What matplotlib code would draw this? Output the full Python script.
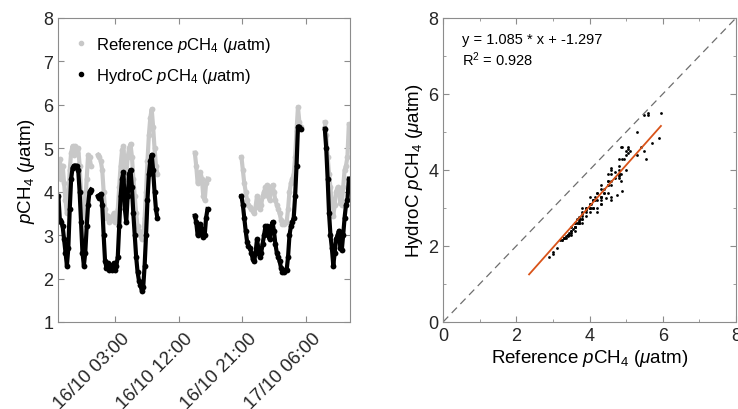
import datetime as dt
import numpy as np
import matplotlib
matplotlib.use("Agg")
import matplotlib.pyplot as plt
import matplotlib.dates as mdates
from matplotlib.lines import Line2D
from matplotlib.transforms import ScaledTranslation

plt.rcParams['font.family'] = ['Liberation Sans', 'DejaVu Sans']
plt.rcParams['mathtext.fontset'] = 'custom'
plt.rcParams['mathtext.rm'] = 'Liberation Sans'
plt.rcParams['mathtext.it'] = 'Liberation Sans:italic'

# sampling step of the records (hours)
step_h = 0.2

# segment start times, hours after 16/10 00:00
seg_start = [-5.0, 0.6, 14.3, 20.9, 32.7]

# HydroC pCH4 (uatm), one list per segment
hydroc = [
    [3.9, 3.35, 3.3, 3.2, 2.9, 2.6, 2.3, 2.7, 3.6, 4.3, 4.55, 4.6, 4.6, 4.6,
     4.5, 4.0, 3.3, 2.6, 2.3, 2.6, 3.2, 3.7, 4.0, 4.05],
    [3.9, 3.85, 3.95, 3.7, 3.0, 2.4, 2.25, 2.35, 2.2, 2.3, 2.2, 2.35, 2.2, 2.3,
     2.5, 3.2, 3.9, 4.3, 4.45, 3.6, 3.3, 3.9, 4.4, 4.5, 4.1, 3.5, 3.0, 2.5,
     2.15, 1.95, 1.85, 1.72, 1.8, 2.3, 3.0, 3.8, 4.4, 4.7, 4.85, 4.5, 4.0,
     3.6, 3.4],
    [3.45, 3.3, 3.0, 3.1, 3.25, 3.1, 2.95, 3.0, 3.4, 3.6],
    [3.9, 3.7, 3.4, 3.1, 2.85, 2.75, 2.7, 2.6, 2.45, 2.4, 2.6, 2.9, 2.7, 2.5,
     2.6, 2.8, 3.0, 3.2, 3.2, 3.0, 2.9, 3.2, 3.3, 3.1, 2.8, 2.6, 2.5, 2.4,
     2.25, 2.15, 2.15, 2.2, 2.2, 2.5, 3.0, 3.2, 3.3, 3.4, 3.9, 4.6, 5.5, 5.5,
     5.45],
    [5.45, 5.0, 4.3, 3.5, 3.0, 2.7, 2.3, 2.6, 2.9, 3.0, 3.1, 2.7, 2.65, 3.0,
     3.4, 3.7, 3.8, 4.3],
]

# Reference pCH4 (uatm), same times
reference = [
    [4.5, 4.75, 4.3, 4.6, 4.2, 3.8, 3.5, 3.8, 4.5, 4.9, 5.05, 4.85, 5.05, 4.9,
     5.0, 4.6, 4.0, 3.6, 3.4, 3.7, 4.3, 4.85, 4.8, 4.6],
    [4.85, 4.8, 4.7, 4.5, 4.0, 3.6, 3.4, 3.45, 3.3, 3.4, 3.35, 3.5, 3.3, 3.4,
     3.6, 4.1, 4.6, 4.95, 5.05, 4.5, 4.3, 4.8, 5.0, 5.1, 4.8, 4.3, 3.9, 3.5,
     3.2, 3.1, 3.0, 2.9, 3.0, 3.4, 4.0, 4.7, 5.3, 5.7, 5.9, 5.5, 5.0, 4.6,
     4.4],
    [4.9, 4.6, 4.2, 4.3, 4.45, 4.3, 3.9, 3.8, 4.2, 4.3],
    [4.8, 4.5, 4.2, 4.0, 3.8, 3.7, 3.65, 3.6, 3.55, 3.5, 3.65, 3.9, 3.8, 3.6,
     3.7, 3.9, 4.0, 4.1, 4.15, 3.9, 3.8, 4.1, 4.15, 4.0, 3.8, 3.7, 3.6, 3.5,
     3.35, 3.25, 3.25, 3.3, 3.3, 3.6, 4.0, 4.2, 4.3, 4.4, 4.8, 5.4, 5.95,
     5.6, 5.5],
    [5.6, 5.3, 4.8, 4.4, 4.1, 3.7, 3.45, 3.7, 4.0, 4.1, 4.05, 3.75, 3.7, 4.1,
     4.5, 4.6, 4.8, 5.55],
]

fit_slope = 1.085
fit_icpt = -1.297
fit_r2 = 0.928
fit_xrange = [2.35, 5.95]

base = dt.datetime(2015, 10, 16)
tick_hours = [3, 12, 21, 30]
xlim_hours = [-5.06, 36.27]

grey = '#c8c8c8'
orange = '#d95319'
spine_c = '#8c8c8c'

fig = plt.figure(figsize=(7.38, 4.10), dpi=100)
ax1 = fig.add_axes([0.0786, 0.2122, 0.3957, 0.7415])
ax2 = fig.add_axes([0.6003, 0.2122, 0.3970, 0.7415])

def to_time(h):
    return base + dt.timedelta(hours=h)

for t0, ref in zip(seg_start, reference):
    times = [to_time(t0 + step_h * i) for i in range(len(ref))]
    ax1.plot(times, ref, color=grey, lw=3.0, marker='o', ms=4.2, mew=0)
for t0, hyd in zip(seg_start, hydroc):
    times = [to_time(t0 + step_h * i) for i in range(len(hyd))]
    ax1.plot(times, hyd, color='black', lw=3.0, marker='o', ms=4.2, mew=0)

ax1.set_xlim(to_time(xlim_hours[0]), to_time(xlim_hours[1]))
ax1.set_ylim(1, 8)
ax1.set_yticks(range(1, 9))
ax1.set_xticks([to_time(h) for h in tick_hours])
ax1.xaxis.set_major_formatter(mdates.DateFormatter('%d/%m %H:%M'))
ax1.set_ylabel('$p$CH$_4$ ($\\mu$atm)', fontsize=13.5, labelpad=4)

handles = [Line2D([], [], ls='none', marker='.', color=grey, ms=6),
           Line2D([], [], ls='none', marker='.', color='black', ms=6)]
ax1.legend(handles, ['Reference $p$CH$_4$ ($\\mu$atm)',
                     'HydroC $p$CH$_4$ ($\\mu$atm)'],
           loc='upper left', frameon=False, fontsize=12,
           handlelength=0.8, handletextpad=0.45, labelspacing=0.75,
           borderaxespad=0.6)

# scatter of the paired records
all_ref = np.concatenate([np.array(r) for r in reference])
all_hyd = np.concatenate([np.array(h) for h in hydroc])
ax2.plot([0, 8], [0, 8], ls=(0, (6, 4)), color='#6e6e6e', lw=0.9)
ax2.scatter(all_ref, all_hyd, s=4, color='black', lw=0)
fx = np.array(fit_xrange)
ax2.plot(fx, fit_slope * fx + fit_icpt, color=orange, lw=1.3)
ax2.text(0.52, 7.45, 'y = %.3f * x + %.3f' % (fit_slope, fit_icpt),
         fontsize=10.5, va='center')
ax2.text(0.52, 6.92, 'R$^2$ = %.3f' % fit_r2, fontsize=10.5, va='center')
ax2.set_xlim(0, 8)
ax2.set_ylim(0, 8)
ax2.set_xticks([0, 2, 4, 6, 8])
ax2.set_yticks([0, 2, 4, 6, 8])
ax2.set_xticks(range(9), minor=True)
ax2.set_yticks(range(9), minor=True)
ax2.set_xlabel('Reference $p$CH$_4$ ($\\mu$atm)', fontsize=13.5, labelpad=2)
ax2.set_ylabel('HydroC $p$CH$_4$ ($\\mu$atm)', fontsize=13.5, labelpad=2)

for ax in (ax1, ax2):
    for sp in ax.spines.values():
        sp.set_color(spine_c)
        sp.set_linewidth(0.8)
    ax.tick_params(which='both', direction='in', top=True, right=True,
                   color=spine_c, labelcolor='#262626')
    ax.tick_params(which='major', length=4, labelsize=13)
    ax.tick_params(which='minor', length=2.5)
ax1.tick_params(axis='x', labelsize=13.5)

# rotated date labels, set after tick_params so the offset sticks
shift = ScaledTranslation(0.12, -0.09, fig.dpi_scale_trans)
for lab in ax1.get_xticklabels():
    lab.set_rotation(45)
    lab.set_ha('right')
    lab.set_va('center')
    lab.set_rotation_mode('anchor')
    lab.set_transform(lab.get_transform() + shift)

fig.savefig('out.png', dpi=100)
